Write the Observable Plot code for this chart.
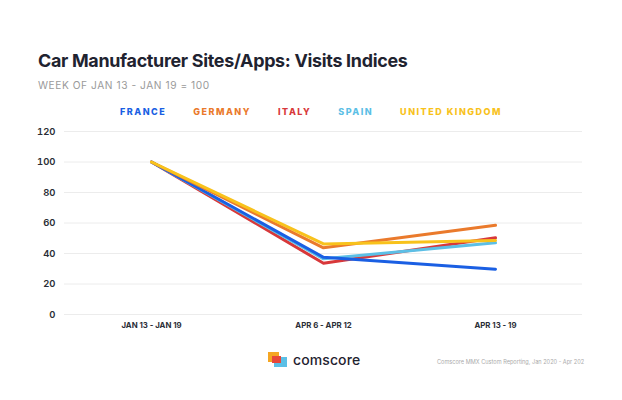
<!DOCTYPE html>
<html>
<head>
<meta charset="utf-8">
<script src="https://cdn.jsdelivr.net/npm/d3@7"></script>
<script src="https://cdn.jsdelivr.net/npm/@observablehq/plot@0.6"></script>
<style>
  html, body { margin: 0; padding: 0; background: #fff; width: 622px; height: 400px; overflow: hidden; position: relative; font-family: Inter, "Open Sans", sans-serif; }
  #title { position: absolute; left: 38px; top: 50px; font-size: 17.9px; font-weight: 700; color: #1f2330; letter-spacing: -0.3px; white-space: nowrap; }
  #subtitle { position: absolute; left: 38px; top: 79px; font-size: 10.2px; color: #9a9a9a; letter-spacing: 0.55px; white-space: nowrap; }
  #legend { position: absolute; left: 0; width: 622px; top: 106px; display: flex; justify-content: center; gap: 27px; font-size: 9px; font-weight: 800; letter-spacing: 1.5px; white-space: nowrap; }
  #chart { position: absolute; left: 0; top: 120px; }
  #logo { position: absolute; left: 268px; top: 351px; display: flex; align-items: center; }
  #logo .icon { position: relative; width: 19px; height: 16px; margin-right: 6px; }
  #logo .icon div { position: absolute; }
  #logo .txt { font-size: 14px; font-weight: 500; color: #1f2330; letter-spacing: 0.1px; }
  #source { position: absolute; left: 437px; top: 359px; font-size: 5.6px; color: #aaa; white-space: nowrap; }
</style>
</head>
<body>
<div id="title"></div>
<div id="subtitle"></div>
<div id="legend"></div>
<div id="chart"></div>
<div id="logo">
  <div class="icon">
    <div style="left:0;top:0;width:11px;height:10px;background:#f5a623;"></div>
    <div style="left:6px;top:5px;width:13px;height:10px;background:#5bbfe6;"></div>
    <div style="left:4px;top:4px;width:9px;height:7px;background:#e8473a;"></div>
  </div>
  <div class="txt">comscore</div>
</div>
<div id="source"></div>
<script>
const titleText = "Car Manufacturer Sites/Apps: Visits Indices";
const subtitleText = "WEEK OF JAN 13 - JAN 19 = 100";
const sourceText = "Comscore MMX Custom Reporting, Jan 2020 - Apr 202";

const weeks = ["JAN 13 - JAN 19", "APR 6 - APR 12", "APR 13 - 19"];
const countries = ["FRANCE", "GERMANY", "ITALY", "SPAIN", "UNITED KINGDOM"];
const colors = ["#1a5fe3", "#ea7a2c", "#d8383a", "#5cbfe6", "#f8c21c"];
const france  = [100, 37.5, 29.7];
const germany = [100, 43.7, 58.5];
const italy   = [100, 33.6, 50.3];
const spain   = [100, 36.5, 47.0];
const uk      = [100, 46.3, 48.5];
const yTicks = [0, 20, 40, 60, 80, 100, 120];

// draw order (bottom to top)
const drawOrder = ["ITALY", "SPAIN", "FRANCE", "GERMANY", "UNITED KINGDOM"];
const seriesValues = { "FRANCE": france, "GERMANY": germany, "ITALY": italy, "SPAIN": spain, "UNITED KINGDOM": uk };

const data = [];
for (const c of drawOrder) {
  seriesValues[c].forEach((v, i) => data.push({ country: c, week: weeks[i], value: v }));
}

document.getElementById("title").textContent = titleText;
document.getElementById("subtitle").textContent = subtitleText;
document.getElementById("source").textContent = sourceText;
const legend = document.getElementById("legend");
countries.forEach((c, i) => {
  const s = document.createElement("span");
  s.textContent = c;
  s.style.color = colors[i];
  legend.appendChild(s);
});

const chart = Plot.plot({
  width: 622,
  height: 215,
  marginTop: 11,
  marginBottom: 21,
  marginLeft: 64,
  marginRight: 40,
  style: { fontFamily: "Inter, sans-serif", background: "transparent" },
  x: { type: "point", domain: weeks, padding: 0.5, label: null, tickSize: 0, tickPadding: 8 },
  y: { domain: [0, 120], ticks: yTicks, label: null, tickSize: 0, tickPadding: 9, grid: false },
  color: { domain: countries, range: colors },
  marks: [
    Plot.ruleY(yTicks, { stroke: "#ececec", strokeWidth: 1 }),
    Plot.axisY({ ticks: yTicks, tickSize: 0, tickPadding: 9, fontSize: 9.5, fontWeight: 600, fill: "#2a2d36", label: null }),
    Plot.axisX({ tickSize: 0, tickPadding: 8, fontSize: 7.8, fontWeight: 700, fill: "#2a2d36", label: null, style: { letterSpacing: "-0.2px" } }),
    Plot.line(data, { x: "week", y: "value", z: "country", stroke: "country", strokeWidth: 3, strokeLinejoin: "round", strokeLinecap: "round" })
  ]
});
document.getElementById("chart").appendChild(chart);
</script>
</body>
</html>
